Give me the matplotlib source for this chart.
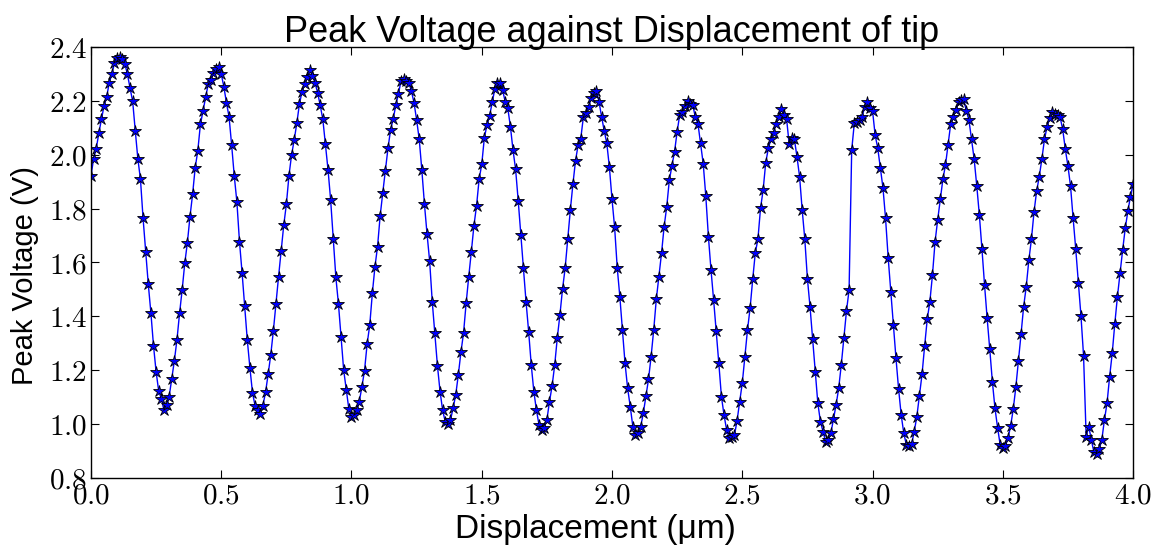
import matplotlib
matplotlib.use("Agg")
import matplotlib.pyplot as plt
import numpy as np
from matplotlib.ticker import FuncFormatter

# displacement grid (um), one reading every 0.01
displacement = np.round(np.arange(0, 401) * 0.01, 2)

# peak voltage readings (V)
peak_voltage = [
    1.922, 1.985, 2.022, 2.080, 2.132, 2.182, 2.214, 2.268, 2.300, 2.340,
    2.360, 2.365, 2.358, 2.338, 2.300, 2.248, 2.200, 2.090, 1.985, 1.909,
    1.764, 1.640, 1.519, 1.413, 1.291, 1.194, 1.122, 1.093, 1.052, 1.070,
    1.101, 1.167, 1.234, 1.312, 1.411, 1.498, 1.597, 1.673, 1.770, 1.853,
    1.952, 2.015, 2.113, 2.163, 2.214, 2.263, 2.280, 2.303, 2.318, 2.325,
    2.301, 2.254, 2.194, 2.142, 2.036, 1.922, 1.826, 1.678, 1.562, 1.438,
    1.312, 1.209, 1.116, 1.067, 1.052, 1.037, 1.068, 1.117, 1.184, 1.256,
    1.345, 1.446, 1.547, 1.643, 1.739, 1.816, 1.923, 2.000, 2.055, 2.117,
    2.188, 2.235, 2.262, 2.291, 2.316, 2.293, 2.268, 2.231, 2.184, 2.132,
    2.039, 1.944, 1.832, 1.686, 1.545, 1.445, 1.322, 1.200, 1.126, 1.054,
    1.027, 1.033, 1.050, 1.083, 1.138, 1.198, 1.297, 1.367, 1.485, 1.584,
    1.659, 1.773, 1.859, 1.940, 2.024, 2.093, 2.133, 2.184, 2.226, 2.275,
    2.282, 2.276, 2.268, 2.237, 2.194, 2.130, 2.058, 1.944, 1.817, 1.706,
    1.605, 1.454, 1.337, 1.215, 1.120, 1.050, 1.008, 1.000, 1.015, 1.058,
    1.107, 1.182, 1.266, 1.337, 1.448, 1.547, 1.640, 1.737, 1.811, 1.910,
    1.965, 2.064, 2.111, 2.145, 2.195, 2.244, 2.269, 2.266, 2.241, 2.198,
    2.173, 2.105, 2.018, 1.946, 1.829, 1.702, 1.578, 1.454, 1.343, 1.219,
    1.120, 1.050, 0.996, 0.977, 0.986, 1.015, 1.083, 1.141, 1.219, 1.320,
    1.405, 1.501, 1.578, 1.686, 1.795, 1.892, 1.979, 2.037, 2.060, 2.140,
    2.157, 2.179, 2.210, 2.231, 2.239, 2.198, 2.142, 2.090, 2.043, 1.954,
    1.835, 1.731, 1.581, 1.473, 1.349, 1.225, 1.132, 1.064, 0.990, 0.959,
    0.967, 0.990, 1.039, 1.103, 1.165, 1.250, 1.349, 1.463, 1.547, 1.634,
    1.733, 1.807, 1.906, 1.959, 2.012, 2.086, 2.150, 2.160, 2.180, 2.200,
    2.190, 2.185, 2.140, 2.115, 2.043, 1.968, 1.847, 1.696, 1.572, 1.461,
    1.345, 1.225, 1.101, 1.033, 0.977, 0.946, 0.950, 0.959, 1.011, 1.083,
    1.151, 1.248, 1.349, 1.430, 1.537, 1.636, 1.686, 1.801, 1.869, 1.971,
    2.024, 2.058, 2.083, 2.115, 2.142, 2.169, 2.150, 2.135, 2.040, 2.062,
    2.058, 1.993, 1.919, 1.795, 1.687, 1.540, 1.436, 1.315, 1.194, 1.077,
    1.008, 0.971, 0.934, 0.940, 0.965, 1.017, 1.070, 1.132, 1.219, 1.320,
    1.420, 1.498, 2.018, 2.117, 2.123, 2.129, 2.142, 2.179, 2.198, 2.173,
    2.164, 2.074, 2.025, 1.953, 1.878, 1.764, 1.618, 1.492, 1.368, 1.244,
    1.130, 1.033, 0.965, 0.922, 0.918, 0.924, 0.971, 1.027, 1.104, 1.184,
    1.290, 1.389, 1.454, 1.553, 1.677, 1.758, 1.835, 1.909, 1.962, 2.037,
    2.115, 2.142, 2.167, 2.195, 2.204, 2.207, 2.163, 2.130, 2.058, 1.985,
    1.886, 1.777, 1.650, 1.516, 1.392, 1.277, 1.157, 1.058, 0.986, 0.922,
    0.912, 0.918, 0.946, 0.992, 1.054, 1.136, 1.234, 1.333, 1.436, 1.510,
    1.609, 1.687, 1.789, 1.866, 1.919, 1.985, 2.058, 2.105, 2.136, 2.161,
    2.152, 2.148, 2.140, 2.095, 2.021, 1.959, 1.884, 1.764, 1.650, 1.525,
    1.402, 1.254, 0.953, 0.990, 0.940, 0.894, 0.888, 0.905, 0.940, 1.014,
    1.076, 1.175, 1.262, 1.373, 1.473, 1.560, 1.646, 1.727, 1.790, 1.845,
    1.890,
]

x_ticks = [0.0, 0.5, 1.0, 1.5, 2.0, 2.5, 3.0, 3.5, 4.0]
y_ticks = [0.8, 1.0, 1.2, 1.4, 1.6, 1.8, 2.0, 2.2, 2.4]

plt.rcParams['mathtext.fontset'] = 'cm'
plt.rcParams['font.family'] = ['Liberation Sans', 'DejaVu Sans']

fig = plt.figure(figsize=(11.53, 5.5), dpi=100)
ax = fig.add_axes([0.0789, 0.1315, 0.9038, 0.7825])

# data line with star markers
ax.plot(displacement, peak_voltage, 'b-', linewidth=1.0,
        marker='*', markersize=9, markerfacecolor='b',
        markeredgecolor='k', markeredgewidth=0.6)

ax.set_xlim(0, 4)
ax.set_ylim(0.8, 2.4)
ax.set_xticks(x_ticks)
ax.set_yticks(y_ticks)
ax.xaxis.set_major_formatter(FuncFormatter(lambda v, p: r'$%.1f$' % v))
ax.yaxis.set_major_formatter(FuncFormatter(lambda v, p: r'$%.1f$' % v))

# classic style ticks on all four sides
ax.tick_params(direction='in', length=6, width=0.8, top=True, right=True,
               labelsize=21, pad=3)
for s in ax.spines.values():
    s.set_linewidth(1.0)

ax.set_title('Peak Voltage against Displacement of tip', fontsize=26, pad=4)
ax.set_xlabel('Displacement (\u03bcm)', fontsize=24)
ax.set_ylabel('Peak Voltage (V)', fontsize=21)
ax.xaxis.set_label_coords(0.484, -0.085)
ax.yaxis.set_label_coords(-0.05, 0.47)

fig.savefig('out.png', dpi=100)
